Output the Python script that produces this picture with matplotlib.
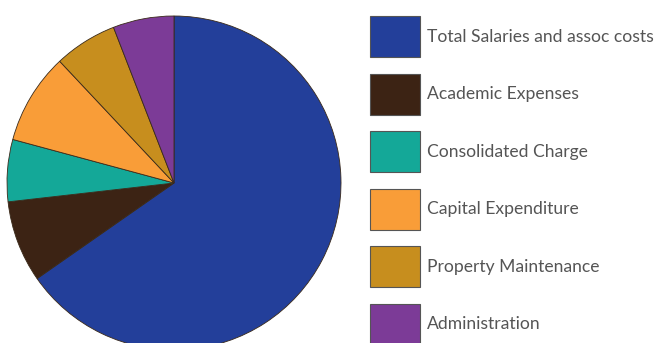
import matplotlib.pyplot as plt

labels = ['Total Salaries and assoc costs', 'Academic Expenses', 'Consolidated Charge',
          'Capital Expenditure', 'Property Maintenance', 'Administration']
values = [65.3, 7.9, 6.0, 8.8, 6.1, 5.9]
colors = ['#233f9a', '#3c2314', '#14a898', '#f99d38', '#c78e1e', '#7c3b97']

W, H = 659, 343
fig = plt.figure(figsize=(W / 100, H / 100), dpi=100)

# pie centre (174, 183) px, radius ~167 px
cx, cy, r = 174, 183, 167
ax = fig.add_axes([(cx - r) / W, (H - cy - r) / H, 2 * r / W, 2 * r / H])
wedges, _ = ax.pie(values, colors=colors, startangle=90, counterclock=False,
                   wedgeprops=dict(edgecolor='#3a2a1a', linewidth=0.6))
ax.set_xlim(-1, 1)
ax.set_ylim(-1, 1)
ax.set_aspect('equal')

# legend: 50x41 px boxes, 57.5 px row pitch
fs = 12.6
px = fs * 100 / 72
sq_w, sq_h = 50, 41
hh = (sq_h / px - 0.245) / 0.65
leg = fig.legend(wedges, labels, loc='upper left',
                 bbox_to_anchor=(370 / W, 1 - 16 / H),
                 frameon=False, borderpad=0, borderaxespad=0,
                 handlelength=sq_w / px, handleheight=hh,
                 labelspacing=(57.5 - sq_h) / px,
                 handletextpad=7 / px, prop={'family': 'Lato', 'size': fs})
for t in leg.get_texts():
    t.set_color('#555555')
for h in leg.legend_handles:
    h.set_edgecolor('#555555')
    h.set_linewidth(0.8)

fig.savefig('out.png', dpi=100)
